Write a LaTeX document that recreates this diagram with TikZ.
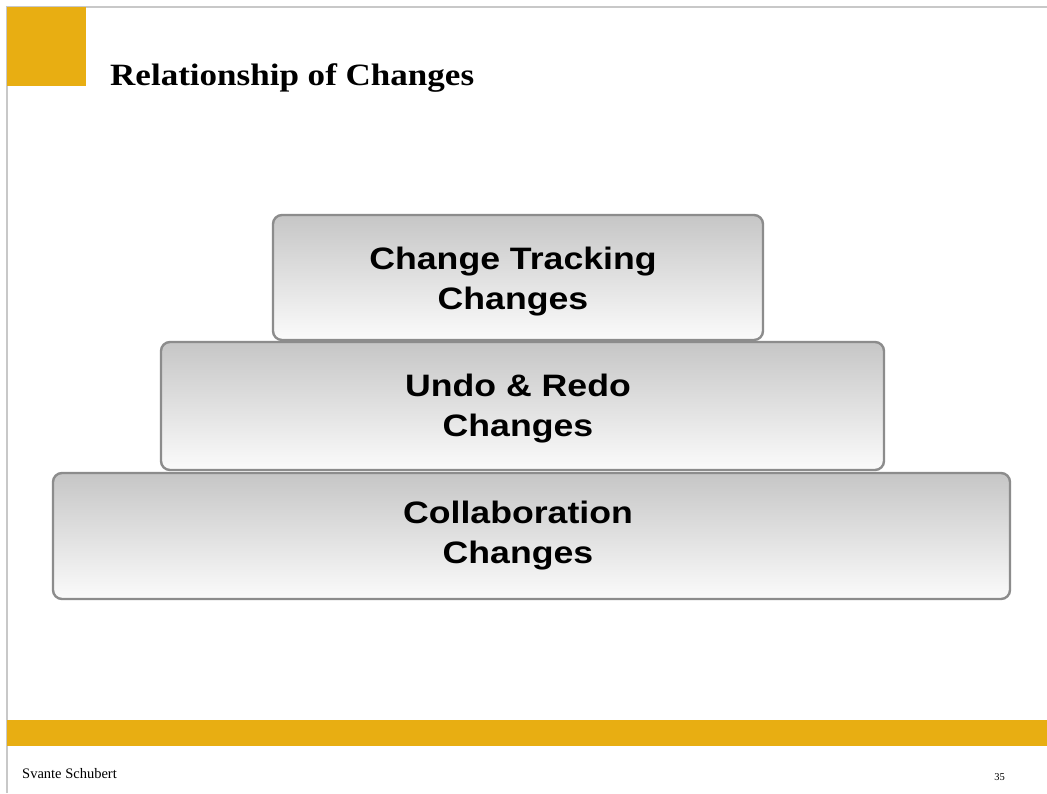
\documentclass[tikz,border=0pt]{standalone}
\usepackage{fontspec}
\setmainfont{Liberation Serif}
\newfontfamily\boxfont[FakeStretch=1.15]{Liberation Sans}
\newfontfamily\titlefont[FakeStretch=1.13]{Liberation Serif}
\definecolor{slideorange}{HTML}{E8AE12}
\definecolor{frameline}{HTML}{C8C8C8}
\definecolor{boxborder}{HTML}{8C8C8C}
\definecolor{boxtop}{HTML}{C6C6C6}
\definecolor{boxbottom}{HTML}{FBFBFB}
\tikzset{
  tier/.style={draw=boxborder, line width=2.4pt, rounded corners=9pt,
    top color=boxtop, bottom color=boxbottom, inner sep=0pt},
  tiertext/.style={align=center, inner sep=0pt,
    font=\boxfont\bfseries\fontsize{31}{40}\selectfont},
}
\begin{document}
\begin{tikzpicture}[x=1pt,y=-1pt]
\useasboundingbox (0,0) rectangle (1047,793);
\fill[white] (0,0) rectangle (1047,793);
% frame lines
\draw[frameline, line width=1.2pt] (7,793) -- (7,7) -- (1047,7);
% orange square and bar
\fill[slideorange] (7,7) rectangle (86,86);
\fill[slideorange] (7,720) rectangle (1047,746);
% title
\node[anchor=base west, inner sep=0pt, font=\titlefont\bfseries\fontsize{31}{36}\selectfont] (title) at (110,85.5) {Relationship of Changes};
% tiers
\node[tier, minimum width=957pt, minimum height=126pt] (t3) at (531.5,536) {};
\node[tier, minimum width=723pt, minimum height=128pt] (t2) at (522.5,406) {};
\node[tier, minimum width=490pt, minimum height=125pt] (t1) at (518,277.5) {};
\node[tiertext] (l1) at (513,282) {Change Tracking\\Changes};
\node[tiertext] (l2) at (518,409) {Undo \& Redo\\Changes};
\node[tiertext] (l3) at (518,536) {Collaboration\\Changes};
% footer
\node[anchor=base west, inner sep=0pt, font=\fontsize{14.5}{16}\selectfont] (author) at (22,778) {Svante Schubert};
\node[anchor=base east, inner sep=0pt, font=\fontsize{10.5}{12}\selectfont] (page) at (1005,780) {35};
\end{tikzpicture}
\end{document}
